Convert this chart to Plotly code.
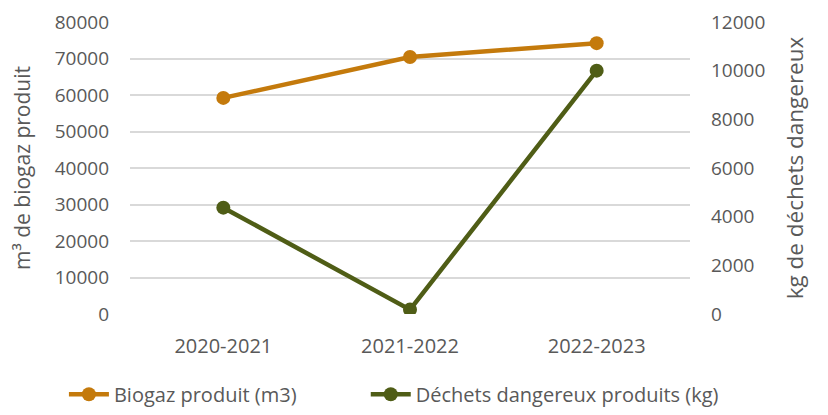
import plotly.graph_objects as go

categories = ["2020-2021", "2021-2022", "2022-2023"]
biogaz_m3 = [59200, 70400, 74200]
dechets_kg = [4370, 180, 10000]

left_ticks = [0, 10000, 20000, 30000, 40000, 50000, 60000, 70000, 80000]
right_ticks = [0, 2000, 4000, 6000, 8000, 10000, 12000]

ORANGE = "#C47A0C"
GREEN = "#4F5D16"
GREY = "#595959"
FONT = "Open Sans"

fig = go.Figure()
fig.add_trace(go.Scatter(
    x=categories, y=biogaz_m3, name="Biogaz produit (m3)",
    mode="lines+markers",
    line=dict(color=ORANGE, width=4.5),
    marker=dict(color=ORANGE, size=14),
    yaxis="y", legend="legend",
))
fig.add_trace(go.Scatter(
    x=categories, y=dechets_kg, name="Déchets dangereux produits (kg)",
    mode="lines+markers",
    line=dict(color=GREEN, width=4.5),
    marker=dict(color=GREEN, size=14),
    yaxis="y2", legend="legend2",
))

legend_style = dict(
    orientation="h", xanchor="left", y=-0.275, yanchor="middle",
    font=dict(size=20, color=GREY), itemwidth=40, bgcolor="rgba(0,0,0,0)",
)

fig.update_layout(
    width=812, height=405,
    margin=dict(l=122, r=130, t=14, b=99, autoexpand=False),
    paper_bgcolor="white", plot_bgcolor="white",
    font=dict(family=FONT, color=GREY, size=17),
    showlegend=True,
    legend=dict(x=-0.118, **legend_style),
    legend2=dict(x=0.421, **legend_style),
    xaxis=dict(
        type="category", range=[-0.5, 2.5],
        showgrid=False, zeroline=False, showline=False,
        tickfont=dict(size=20, color=GREY), ticklabelstandoff=18,
    ),
    yaxis=dict(
        range=[0, 80000], tickvals=left_ticks,
        ticktext=[str(v) for v in left_ticks],
        showgrid=True, gridcolor="#D9D9D9", gridwidth=1.5,
        zeroline=False, showline=False,
        tickfont=dict(size=19, color=GREY), ticklabelstandoff=20,
        title=dict(text="m³ de biogaz produit", font=dict(size=21, color=GREY), standoff=20),
        automargin=False,
    ),
    yaxis2=dict(
        range=[0, 12000], tickvals=right_ticks,
        ticktext=[str(v) for v in right_ticks],
        overlaying="y", side="right", showgrid=False,
        zeroline=False, showline=False,
        tickfont=dict(size=19, color=GREY), ticklabelstandoff=20,
        title=dict(text="kg de déchets dangereux", font=dict(size=22.5, color=GREY), standoff=22),
        automargin=False,
    ),
)

fig.write_html("out.html")
